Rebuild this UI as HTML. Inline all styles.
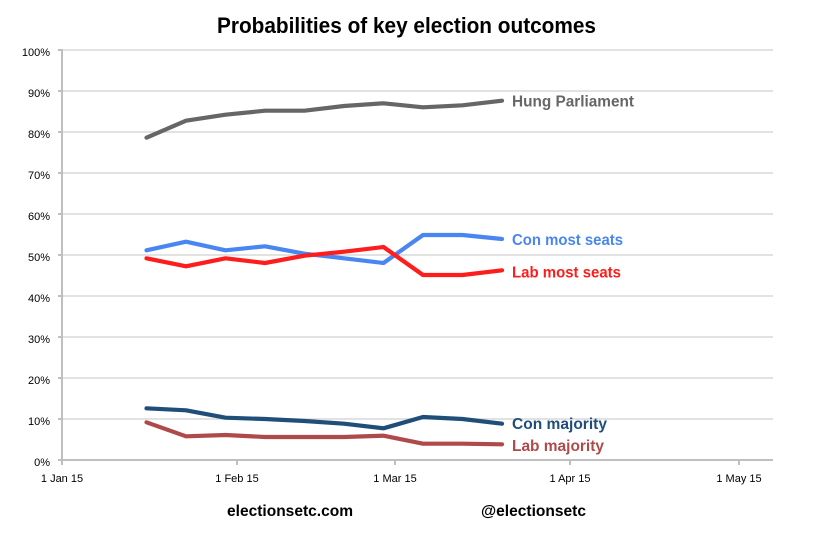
<!DOCTYPE html>
<html>
<head>
<meta charset="utf-8">
<style>
html,body{margin:0;padding:0;background:#fff;}
svg{display:block;}
text{font-family:"Liberation Sans",Arial,sans-serif;}
</style>
</head>
<body>
<svg width="814" height="535" viewBox="0 0 814 535" xmlns="http://www.w3.org/2000/svg">
<rect width="814" height="535" fill="#fff"/>
<!-- title -->
<text x="217" y="33" font-size="22" font-weight="bold" fill="#000" textLength="379" lengthAdjust="spacingAndGlyphs">Probabilities of key election outcomes</text>

<!-- gridlines -->
<g stroke="#d9d9d9" stroke-width="1.5">
<line x1="62" y1="50" x2="773" y2="50"/>
<line x1="62" y1="91" x2="773" y2="91"/>
<line x1="62" y1="132" x2="773" y2="132"/>
<line x1="62" y1="173" x2="773" y2="173"/>
<line x1="62" y1="214" x2="773" y2="214"/>
<line x1="62" y1="255" x2="773" y2="255"/>
<line x1="62" y1="296" x2="773" y2="296"/>
<line x1="62" y1="337" x2="773" y2="337"/>
<line x1="62" y1="378" x2="773" y2="378"/>
<line x1="62" y1="419" x2="773" y2="419"/>
</g>
<!-- axes -->
<g stroke="#bfbfbf" stroke-width="2">
<line x1="62" y1="49" x2="62" y2="461"/>
<line x1="61" y1="460" x2="773" y2="460"/>
<line x1="58" y1="50" x2="62" y2="50"/>
<line x1="58" y1="91" x2="62" y2="91"/>
<line x1="58" y1="132" x2="62" y2="132"/>
<line x1="58" y1="173" x2="62" y2="173"/>
<line x1="58" y1="214" x2="62" y2="214"/>
<line x1="58" y1="255" x2="62" y2="255"/>
<line x1="58" y1="296" x2="62" y2="296"/>
<line x1="58" y1="337" x2="62" y2="337"/>
<line x1="58" y1="378" x2="62" y2="378"/>
<line x1="58" y1="419" x2="62" y2="419"/>
<line x1="58" y1="460" x2="62" y2="460"/>
<line x1="62" y1="460" x2="62" y2="465"/>
<line x1="237" y1="460" x2="237" y2="465"/>
<line x1="395" y1="460" x2="395" y2="465"/>
<line x1="570" y1="460" x2="570" y2="465"/>
<line x1="739" y1="460" x2="739" y2="465"/>
</g>

<!-- y labels -->
<g font-size="11" fill="#000" text-anchor="end">
<text x="50" y="56">100%</text>
<text x="50" y="97">90%</text>
<text x="50" y="138">80%</text>
<text x="50" y="179">70%</text>
<text x="50" y="220">60%</text>
<text x="50" y="261">50%</text>
<text x="50" y="302">40%</text>
<text x="50" y="343">30%</text>
<text x="50" y="384">20%</text>
<text x="50" y="425">10%</text>
<text x="50" y="466">0%</text>
</g>
<!-- x labels -->
<g font-size="11" fill="#000" text-anchor="middle">
<text x="62" y="482">1 Jan 15</text>
<text x="237" y="482">1 Feb 15</text>
<text x="395" y="482">1 Mar 15</text>
<text x="570" y="482">1 Apr 15</text>
<text x="739" y="482">1 May 15</text>
</g>

<!-- series -->
<g fill="none" stroke-width="4.2" stroke-linejoin="round" stroke-linecap="round">
<polyline stroke="#666666" points="146.5,137.7 186,120.7 225.5,114.7 265,110.7 304.5,110.7 344,106 383.5,103.3 423,107.3 462.5,105.3 502,100.7"/>
<polyline stroke="#4a86f2" points="146.5,250.3 186,241.7 225.5,250.3 265,246.3 304.5,253.7 344,258.3 383.5,263 423,235 462.5,235 502,239"/>
<polyline stroke="#ff1c1c" points="146.5,258.3 186,266.3 225.5,258.3 265,263 304.5,255.7 344,251.7 383.5,247 423,275 462.5,275 502,270.3"/>
<polyline stroke="#1f4e79" points="146.5,408.3 186,410.3 225.5,417.7 265,419 304.5,421 344,423.7 383.5,428.3 423,417 462.5,419 502,423.7"/>
<polyline stroke="#b04a4a" points="146.5,422.3 186,436.3 225.5,435 265,437 304.5,437 344,437 383.5,435.7 423,443.7 462.5,443.7 502,444.3"/>
</g>

<!-- series labels -->
<g font-size="15.5" font-weight="bold">
<text x="512" y="106.5" fill="#666666" textLength="122" lengthAdjust="spacingAndGlyphs">Hung Parliament</text>
<text x="512" y="245" fill="#4a86f2" textLength="111" lengthAdjust="spacingAndGlyphs">Con most seats</text>
<text x="512" y="277.5" fill="#ff1c1c" textLength="109" lengthAdjust="spacingAndGlyphs">Lab most seats</text>
<text x="512" y="429" fill="#1f4e79" textLength="95" lengthAdjust="spacingAndGlyphs">Con majority</text>
<text x="512" y="451" fill="#b04a4a" textLength="92" lengthAdjust="spacingAndGlyphs">Lab majority</text>
</g>

<!-- footer -->
<g font-size="16" font-weight="bold" fill="#000">
<text x="227" y="516" textLength="126" lengthAdjust="spacingAndGlyphs">electionsetc.com</text>
<text x="481" y="516" textLength="105" lengthAdjust="spacingAndGlyphs">@electionsetc</text>
</g>
</svg>
</body>
</html>
